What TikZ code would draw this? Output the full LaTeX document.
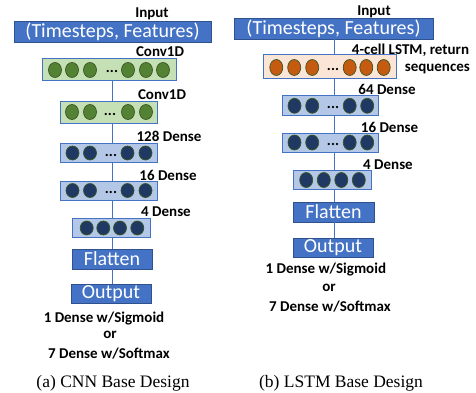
\documentclass[tikz,border=0pt]{standalone}
\usepackage{fontspec}
\usetikzlibrary{shapes.geometric}
\newfontfamily\labfont{Carlito}
\newfontfamily\capfont{Liberation Serif}
\definecolor{mblue}{HTML}{4472C4}
\definecolor{bordtwo}{HTML}{2F528F}
\definecolor{bordone}{HTML}{4472C4}
\definecolor{lgreen}{HTML}{C5E0B4}
\definecolor{lblue}{HTML}{B4C7E7}
\definecolor{lpeach}{HTML}{FBE5D6}
\definecolor{cgreen}{HTML}{548235}
\definecolor{cnavy}{HTML}{203864}
\definecolor{corange}{HTML}{C55A11}
\definecolor{cout}{HTML}{385723}
\tikzset{
  lab/.style={font=\labfont\bfseries\fontsize{15}{15}\selectfont, inner sep=0pt, anchor=base},
  capt/.style={font=\capfont\fontsize{17.5}{17.5}\selectfont, inner sep=0pt, anchor=base},
  bluebox/.style={draw=bordtwo, fill=mblue, text=white, font=\labfont\fontsize{20}{20}\selectfont, inner sep=0pt, line width=0.8pt},
  layer/.style={draw=bordone, line width=0.8pt, inner sep=0pt},
  gbox/.style={layer, fill=lgreen},
  bbox/.style={layer, fill=lblue},
  obox/.style={layer, fill=lpeach},
  cell/.style={ellipse, draw=cout, line width=0.7pt, minimum width=13pt, minimum height=15pt, inner sep=0pt},
  gc/.style={cell, fill=cgreen},
  nc/.style={cell, fill=cnavy},
  oc/.style={cell, fill=corange, minimum height=16pt},
  conn/.style={draw=mblue, line width=1pt},
}
\begin{document}
\begin{tikzpicture}[x=1pt,y=-1pt]
\useasboundingbox (0,0) rectangle (476,393);
\coordinate (lx) at (112.5,0);
\coordinate (rx) at (334,0);
% ===================== Left: CNN =====================
\node[lab] (linlab) at (152,18) {Input};
\node[bluebox, minimum width=197pt, minimum height=21pt] (lin) at (112.5,31.5) {(Timesteps, Features)};
\node[lab] (lc1lab) at (160,56.5) {Conv1D};
\node[lab] (lc2lab) at (162,100) {Conv1D};
\node[lab] (ld128lab) at (169,141) {128 Dense};
\node[lab] (ld16lab) at (168,180) {16 Dense};
\node[lab] (ld4lab) at (166,216.5) {4 Dense};
% connectors (behind boxes)
\node[gbox, minimum width=134pt, minimum height=22pt] (lconv1) at (109,69) {};
\node[gbox, minimum width=97pt, minimum height=22pt] (lconv2) at (108.5,112) {};
\node[bbox, minimum width=97pt, minimum height=19pt] (ld128) at (108.5,152.5) {};
\node[bbox, minimum width=97pt, minimum height=19pt] (ld16) at (108.5,190.5) {};
\node[bbox, minimum width=78pt, minimum height=19pt] (ld4) at (111,227.5) {};
\node[bluebox, minimum width=80pt, minimum height=20pt] (lflat) at (112,259) {Flatten};
\node[bluebox, minimum width=80pt, minimum height=19pt] (lout) at (111,293.5) {Output};
\draw[conn] (lconv1.south -| lx) -- (lconv2.north -| lx);
\draw[conn] (lconv2.south -| lx) -- (ld128.north -| lx);
\draw[conn] (ld128.south -| lx) -- (ld16.north -| lx);
\draw[conn] (ld16.south -| lx) -- (ld4.north -| lx);
\draw[conn] (ld4.south -| lx) -- (lflat.north -| lx);
\draw[conn] (lflat.south -| lx) -- (lout.north -| lx);
% cells
\foreach \x [count=\i] in {55,72,90,128,146,163} \node[gc] (lc1c\i) at (\x,70) {};
\node[lab] (lc1d) at (112,73) {...};
\foreach \x [count=\i] in {72,90,128,146} \node[gc] (lc2c\i) at (\x,112) {};
\node[lab] (lc2d) at (110,115) {...};
\foreach \x [count=\i] in {72.5,90,127.5,145.5} \node[nc, minimum height=14pt] (ld128c\i) at (\x,153) {};
\node[lab] (ld128d) at (111,156) {...};
\foreach \x [count=\i] in {72.5,90,127.5,145.5} \node[nc, minimum height=14pt] (ld16c\i) at (\x,190.5) {};
\node[lab] (ld16d) at (111,193.5) {...};
\foreach \x [count=\i] in {86.7,103.3,120,137.3} \node[nc, minimum height=14pt] (ld4c\i) at (\x,228) {};
\node[lab, anchor=base] (lo1) at (104,322) {1 Dense w/Sigmoid};
\node[lab, anchor=base] (lo2) at (110,338.5) {or};
\node[lab, anchor=base] (lo3) at (109,358) {7 Dense w/Softmax};
\node[capt] (lcap) at (113,387) {(a) CNN Base Design};
% ===================== Right: LSTM =====================
\node[lab] (rinlab) at (374,15.7) {Input};
\node[bluebox, minimum width=199pt, minimum height=21pt] (rin) at (333.5,28.5) {(Timesteps, Features)};
\node[lab] (rlstmlab) at (410.5,54.3) {4-cell LSTM, return};
\node[lab] (rseqlab) at (437.3,71.7) {sequences};
\node[lab] (rd64lab) at (387,95) {64 Dense};
\node[lab] (rd16lab) at (389.5,132.8) {16 Dense};
\node[lab] (rd4lab) at (388,169.5) {4 Dense};
\node[obox, minimum width=133pt, minimum height=24pt] (rlstm) at (329.5,66) {};
\node[bbox, minimum width=96pt, minimum height=19.5pt] (rd64) at (330,105.5) {};
\node[bbox, minimum width=96pt, minimum height=19.5pt] (rd16) at (330,143) {};
\node[bbox, minimum width=78pt, minimum height=19pt] (rd4) at (332,179.5) {};
\node[bluebox, minimum width=81pt, minimum height=20pt] (rflat) at (333.5,212) {Flatten};
\node[bluebox, minimum width=80pt, minimum height=19pt] (rout) at (333,247.5) {Output};
\draw[conn] (rin.south -| rx) -- (rlstm.north -| rx);
\draw[conn] (rlstm.south -| rx) -- (rd64.north -| rx);
\draw[conn] (rd64.south -| rx) -- (rd16.north -| rx);
\draw[conn] (rd16.south -| rx) -- (rd4.north -| rx);
\draw[conn] (rd4.south -| rx) -- (rflat.north -| rx);
\draw[conn] (rflat.south -| rx) -- (rout.north -| rx);
\foreach \x [count=\i] in {276.3,294.2,312.2,349.7,366.3,383.7} \node[oc] (rlc\i) at (\x,67.5) {};
\node[lab] (rld) at (333,71) {...};
\foreach \x [count=\i] in {294.5,312.2,349.7,367.2} \node[nc] (rd64c\i) at (\x,105.8) {};
\node[lab] (rd64d) at (333,109) {...};
\foreach \x [count=\i] in {294.5,312.2,349.7,367.2} \node[nc] (rd16c\i) at (\x,142.5) {};
\node[lab] (rd16d) at (333,145.5) {...};
\foreach \x [count=\i] in {306.2,323.8,341.3,358.8} \node[nc] (rd4c\i) at (\x,180) {};
\node[lab] (ro1) at (325.8,273.7) {1 Dense w/Sigmoid};
\node[lab] (ro2) at (329,291.3) {or};
\node[lab] (ro3) at (330,311.4) {7 Dense w/Softmax};
\node[capt] (rcap) at (341,387) {(b) LSTM Base Design};
\end{tikzpicture}
\end{document}
